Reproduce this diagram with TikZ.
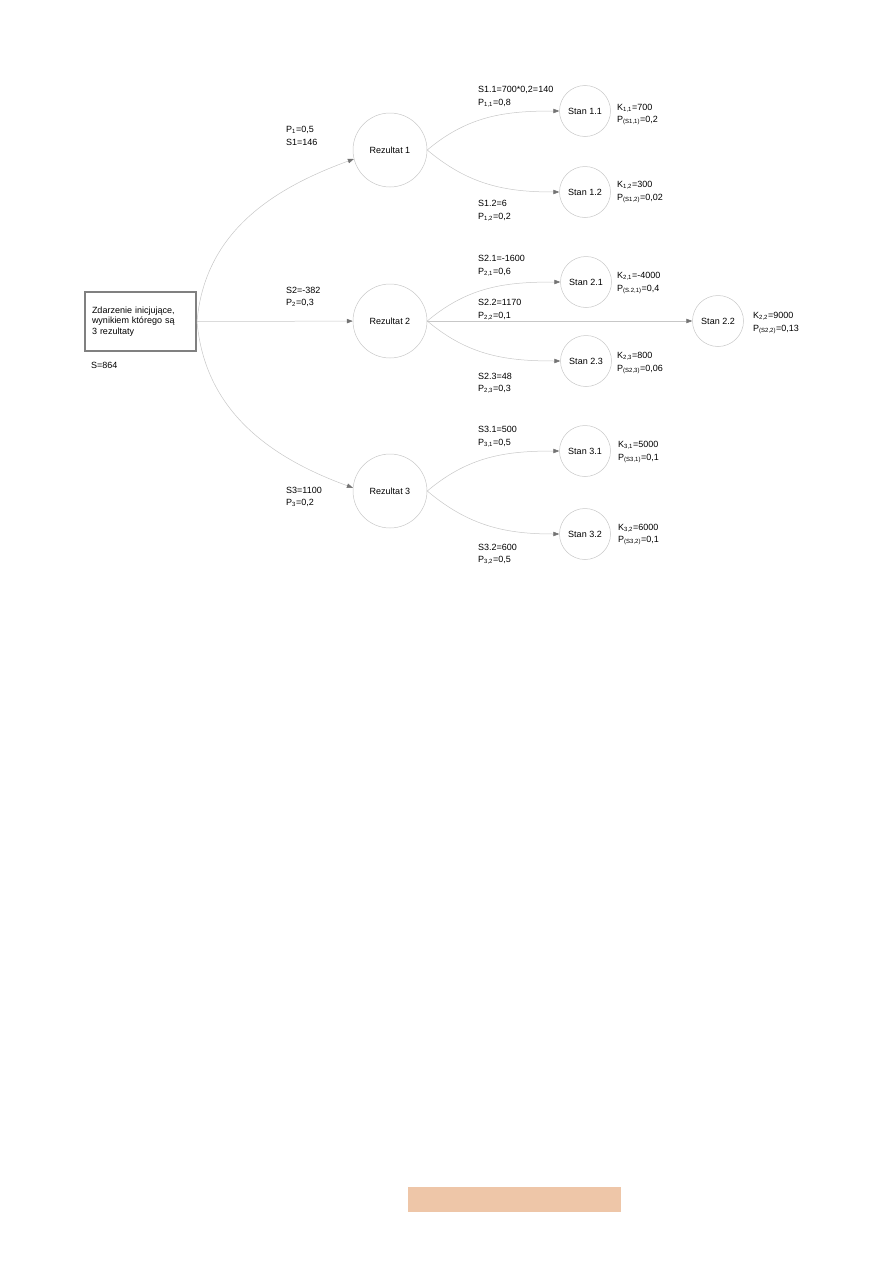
\documentclass[tikz,border=0pt]{standalone}
\usepackage{fontspec}
\setmainfont{Liberation Sans}
\usetikzlibrary{arrows.meta}
\begin{document}
\begin{tikzpicture}[x=1pt,y=-1pt,
  res/.style={circle, draw=black!22, line width=0.5pt, minimum size=74pt, inner sep=0pt, font=\fontsize{9}{11}\selectfont},
  st/.style={circle, draw=black!22, line width=0.5pt, minimum size=51pt, inner sep=0pt, font=\fontsize{9}{11}\selectfont},
  boxn/.style={rectangle, draw=black!50, line width=2pt, minimum width=111pt, minimum height=59pt, text width=97pt, align=left, inner xsep=7pt, font=\fontsize{9}{10.5}\selectfont},
  edge/.style={draw=black!22, line width=0.5pt, -{Triangle[length=6pt,width=4.5pt,color=black!55]}},
  lab/.style={anchor=base west, inner sep=0pt, font=\fontsize{9}{11}\selectfont}
]
\useasboundingbox (0,0) rectangle (893,1263);
\fill[fill={rgb,255:red,238;green,198;blue,168}] (408,1187) rectangle (621,1212);

\node[boxn] (box) at (140.5,321.5) {Zdarzenie inicjujące,\\wynikiem którego są\\3 rezultaty};
\node[lab] (s) at (91,368.5) {S=864};

\node[res] (r1) at (390,150) {Rezultat 1};
\node[res] (r2) at (390,321) {Rezultat 2};
\node[res] (r3) at (390,491) {Rezultat 3};

\node[st] (s11) at (585,111) {Stan 1.1};
\node[st] (s12) at (585,192) {Stan 1.2};
\node[st] (s21) at (586,282) {Stan 2.1};
\node[st] (s22) at (718,321) {Stan 2.2};
\node[st] (s23) at (586,361) {Stan 2.3};
\node[st] (s31) at (585,451) {Stan 3.1};
\node[st] (s32) at (585,534) {Stan 3.2};

\draw[edge] (box.east) to[out=85,in=200] (r1.194);
\draw[edge] (box.east) -- (r2);
\draw[edge] (box.east) to[out=-85,in=160] (r3.175);

\draw[edge] (r1.east) to[out=40,in=180] (s11.west);
\draw[edge] (r1.east) to[out=-40,in=180] (s12.west);
\draw[edge] (r2.east) to[out=40,in=180] (s21.west);
\draw[edge] (r2.east) -- (s22.west);
\draw[edge] (r2.east) to[out=-40,in=180] (s23.west);
\draw[edge] (r3.east) to[out=40,in=180] (s31.west);
\draw[edge] (r3.east) to[out=-40,in=180] (s32.west);

\node[lab] (l1a) at (286,132.5) {P\textsubscript{1}=0,5};
\node[lab] (l1b) at (286,145.5) {S1=146};
\node[lab] (l2a) at (286,293.5) {S2=-382};
\node[lab] (l2b) at (286,305.5) {P\textsubscript{2}=0,3};
\node[lab] (l3a) at (286,493.5) {S3=1100};
\node[lab] (l3b) at (286,505.5) {P\textsubscript{3}=0,2};

\node[lab] (a11) at (478,92.5) {S1.1=700*0,2=140};
\node[lab] (b11) at (478,105.5) {P\textsubscript{1,1}=0,8};
\node[lab] (k11) at (617,110.5) {K\textsubscript{1,1}=700};
\node[lab] (p11) at (617,122.5) {P\textsubscript{(S1,1)}=0,2};

\node[lab] (a12) at (478,206.5) {S1.2=6};
\node[lab] (b12) at (478,219.5) {P\textsubscript{1,2}=0,2};
\node[lab] (k12) at (617,187.5) {K\textsubscript{1,2}=300};
\node[lab] (p12) at (617,200.5) {P\textsubscript{(S1,2)}=0,02};

\node[lab] (a21) at (478,261.5) {S2.1=-1600};
\node[lab] (b21) at (478,274.5) {P\textsubscript{2,1}=0,6};
\node[lab] (k21) at (617,278.5) {K\textsubscript{2,1}=-4000};
\node[lab] (p21) at (617,291.5) {P\textsubscript{(S.2,1)}=0,4};

\node[lab] (a22) at (478,305.5) {S2.2=1170};
\node[lab] (b22) at (478,318.5) {P\textsubscript{2,2}=0,1};
\node[lab] (k22) at (753,318.5) {K\textsubscript{2,2}=9000};
\node[lab] (p22) at (753,331.5) {P\textsubscript{(S2,2)}=0,13};

\node[lab] (k23) at (617,358.5) {K\textsubscript{2,3}=800};
\node[lab] (p23) at (617,371.5) {P\textsubscript{(S2,3)}=0,06};
\node[lab] (a23) at (478,379.5) {S2.3=48};
\node[lab] (b23) at (478,391.5) {P\textsubscript{2,3}=0,3};

\node[lab] (a31) at (478,432.5) {S3.1=500};
\node[lab] (b31) at (478,445.5) {P\textsubscript{3,1}=0,5};
\node[lab] (k31) at (618,447.5) {K\textsubscript{3,1}=5000};
\node[lab] (p31) at (618,460.5) {P\textsubscript{(S3,1)}=0,1};

\node[lab] (a32) at (478,550.5) {S3.2=600};
\node[lab] (b32) at (478,562.5) {P\textsubscript{3,2}=0,5};
\node[lab] (k32) at (618,530.5) {K\textsubscript{3,2}=6000};
\node[lab] (p32) at (618,542.5) {P\textsubscript{(S3,2)}=0,1};
\end{tikzpicture}
\end{document}
